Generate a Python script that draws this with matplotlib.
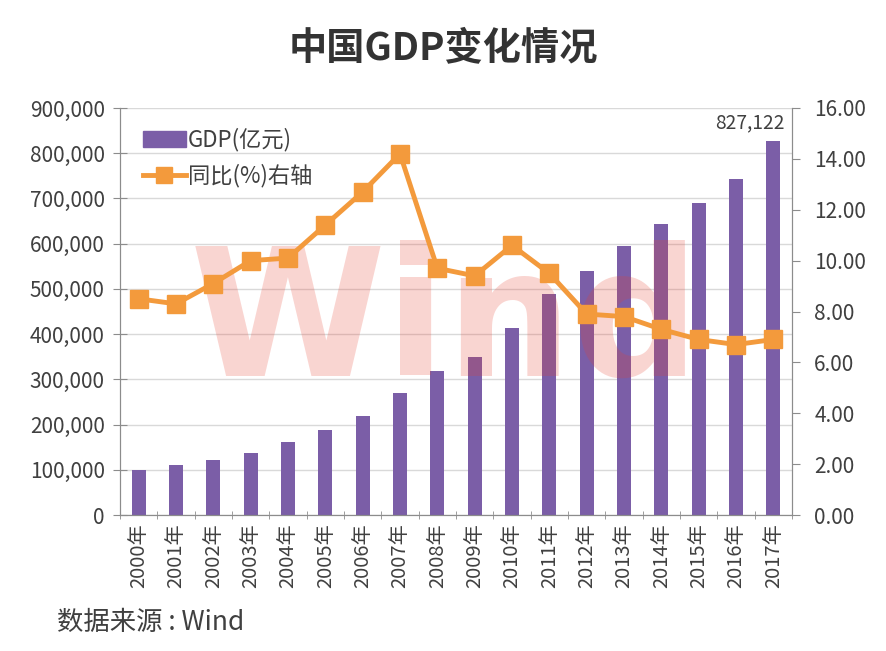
import numpy as np
import matplotlib.pyplot as plt
from matplotlib.ticker import FuncFormatter, FixedLocator
from matplotlib.lines import Line2D
from matplotlib.patches import Patch

plt.rcParams['font.family'] = ['Noto Sans CJK SC', 'DejaVu Sans']

# data
years = ['2000年', '2001年', '2002年', '2003年', '2004年', '2005年', '2006年', '2007年', '2008年',
         '2009年', '2010年', '2011年', '2012年', '2013年', '2014年', '2015年', '2016年', '2017年']
gdp = [100280, 110863, 121717, 137422, 161840, 187319, 219439, 270232, 319516,
       349081, 413030, 489301, 540367, 595244, 643974, 689052, 743586, 827122]
growth = [8.5, 8.3, 9.1, 10.0, 10.1, 11.4, 12.7, 14.2, 9.7,
          9.4, 10.6, 9.5, 7.9, 7.8, 7.3, 6.9, 6.7, 6.9]

purple = '#7b5ea7'
orange = '#f39a3c'
txt = '#404040'
grid_c = '#d9d9d9'
spine_c = '#8c8c8c'

fig = plt.figure(figsize=(8.86, 6.51), dpi=100)
ax = fig.add_axes([120 / 886, 1 - 515 / 651, 672 / 886, 407 / 651])
ax2 = ax.twinx()

x = np.arange(len(years))
ax.bar(x, gdp, width=0.38, color=purple, zorder=2)
ax.set_xlim(-0.5, len(years) - 0.5)
ax.set_ylim(0, 900000)
ax.set_yticks(np.arange(0, 900001, 100000))
ax.yaxis.set_major_formatter(FuncFormatter(lambda v, p: f'{int(v):,}'))
ax.grid(axis='y', color=grid_c, linewidth=1, zorder=0)
ax.set_axisbelow(True)

ax.set_xticks(x)
ax.set_xticklabels(years, rotation=90, fontsize=14.5, color=txt)
ax.xaxis.set_minor_locator(FixedLocator(np.arange(-0.5, len(years), 1)))
ax.tick_params(axis='x', which='major', length=0, pad=6)
ax.tick_params(axis='x', which='minor', length=6, color=spine_c, direction='inout')
ax.tick_params(axis='y', labelsize=15, labelcolor=txt, length=10, direction='inout',
               color=spine_c, pad=6)

ax2.plot(x, growth, color=orange, linewidth=3.5, marker='s', markersize=13, zorder=3)
ax2.set_ylim(0, 16)
ax2.set_yticks(np.arange(0, 16.01, 2))
ax2.yaxis.set_major_formatter(FuncFormatter(lambda v, p: f'{v:.2f}'))
ax2.tick_params(axis='y', labelsize=15, labelcolor=txt, length=6, direction='out',
                color=spine_c, pad=10)

for a in (ax, ax2):
    a.spines['top'].set_visible(False)
    for s in ('left', 'right', 'bottom'):
        a.spines[s].set_color(spine_c)

ax.text(len(years) - 1 + 0.3, 845000, f'{gdp[-1]:,}', ha='right', va='bottom',
        fontsize=13.8, color=txt)

# watermark: above bars, below the growth line
ax.text(445 / 886, 1 - 326 / 651, 'Wind', transform=fig.transFigure, ha='center', va='center',
        fontsize=128, fontweight='bold', family='DejaVu Sans', color='#e8402f', alpha=0.22,
        zorder=5)

handles = [Patch(color=purple),
           Line2D([0], [0], color=orange, linewidth=3.5, marker='s', markersize=11)]
ax.legend(handles, ['GDP(亿元)', '同比(%)右轴'], loc='upper left', bbox_to_anchor=(0.005, 1.0),
          frameon=False, fontsize=16, labelcolor=txt, handlelength=1.9, handleheight=0.7,
          handletextpad=0.1, labelspacing=0.55)

fig.text(0.5, 1 - 48 / 651, '中国GDP变化情况', ha='center', va='center', fontsize=27.5,
         fontweight='bold', color='#333333')
fig.text(57 / 886, 1 - 622 / 651, '数据来源 : Wind', ha='left', va='center', fontsize=19,
         color=txt)

fig.savefig('out.png', dpi=100, facecolor='white')
